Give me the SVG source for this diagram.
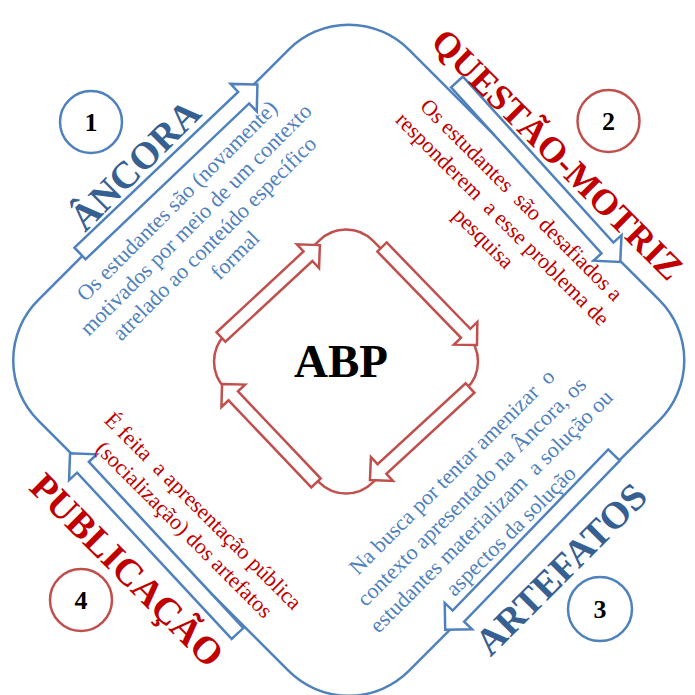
<svg xmlns="http://www.w3.org/2000/svg" width="695" height="695" viewBox="0 0 695 695">
<style>
text { font-family: "Liberation Serif", "Times New Roman", serif; }
.title { font-size: 38px; font-weight: bold; text-anchor: middle; }
.body { font-size: 22px; text-anchor: middle; }
.num { font-size: 26px; font-weight: bold; text-anchor: middle; fill: #000; }
.tb { fill: #376092; }
.bb { fill: #4F81BD; }
.tr { fill: #C00000; }
.loop-o { fill: none; stroke: #4F81BD; stroke-width: 2.5; }
.loop-i { fill: none; stroke: #C0504D; stroke-width: 2.5; }
.arr-o { fill: #fff; stroke: #4F81BD; stroke-width: 2.5; stroke-linejoin: miter; }
.arr-i { fill: #fff; stroke: #C0504D; stroke-width: 2.5; stroke-linejoin: miter; }
.cb { fill: #fff; stroke: #4F81BD; stroke-width: 2.5; }
.cr { fill: #fff; stroke: #C0504D; stroke-width: 2.5; }
</style>
<rect width="695" height="695" fill="#fff"/>
<g id="connectors">
  <rect class="loop-o" x="-262.15" y="-262.15" width="524.3" height="524.3" rx="85" transform="translate(348.75,360.25) rotate(45)"/>
  <polygon class="arr-o" points="0,-8 226,-8 226,-19 245,0 226,19 226,8 0,8" transform="translate(80,253.5) rotate(-43.6)"/>
  <polygon class="arr-o" points="0,-8 224,-8 224,-19 243,0 224,19 224,8 0,8" transform="translate(457,82) rotate(47.8)"/>
  <polygon class="arr-o" points="0,-8 224,-8 224,-19 243,0 224,19 224,8 0,8" transform="translate(614,455) rotate(134)"/>
  <polygon class="arr-o" points="0,-8 227,-8 227,-19 246,0 227,19 227,8 0,8" transform="translate(237.5,633.5) rotate(-132.9)"/>
  <rect class="loop-i" x="-104.45" y="-104.45" width="208.9" height="208.9" rx="38" transform="translate(346,361.5) rotate(45)"/>
  <polygon class="arr-i" points="0,-6.5 118.7,-6.5 118.7,-16.3 135,0 118.7,16.3 118.7,6.5 0,6.5" transform="translate(221,337) rotate(-42.9)"/>
  <polygon class="arr-i" points="0,-6.5 120.2,-6.5 120.2,-16.3 136.5,0 120.2,16.3 120.2,6.5 0,6.5" transform="translate(382,247) rotate(45.9)"/>
  <polygon class="arr-i" points="0,-6.5 119.6,-6.5 119.6,-16.3 135.9,0 119.6,16.3 119.6,6.5 0,6.5" transform="translate(470,388) rotate(137.4)"/>
  <polygon class="arr-i" points="0,-6.5 120.2,-6.5 120.2,-16.3 136.5,0 120.2,16.3 120.2,6.5 0,6.5" transform="translate(316,483) rotate(-133.5)"/>
</g>
<g id="abp">
  <text x="341" y="377" style="font-size:47px;font-weight:bold;text-anchor:middle;fill:#000">ABP</text>
</g>
<g id="ancora">
  <circle class="cb" cx="91" cy="122" r="31"/>
  <text class="num" x="91" y="131">1</text>
  <text class="title tb" transform="translate(144,174) rotate(-45)">ÂNCORA</text>
  <text class="body bb" transform="translate(184,204) rotate(-45)">
    <tspan x="0" y="0">Os estudantes são (novamente)</tspan>
    <tspan x="0" y="26.5">motivados por meio de um contexto</tspan>
    <tspan x="0" y="53">atrelado ao conteúdo específico</tspan>
    <tspan x="0" y="79.5">formal</tspan>
  </text>
</g>
<g id="questao-motriz">
  <circle class="cr" cx="608.5" cy="121" r="31"/>
  <text class="num" x="608.5" y="130">2</text>
  <text class="title tr" style="font-size:36px" transform="translate(549,163) rotate(45)">QUESTÃO-MOTRIZ</text>
  <text class="body tr" xml:space="preserve" transform="translate(516.5,205) rotate(45)"><tspan x="0" y="0">Os estudantes  são desafiados a</tspan><tspan x="0" y="27">responderem  a esse problema de</tspan><tspan x="0" y="54">pesquisa</tspan></text>
</g>
<g id="artefatos">
  <circle class="cb" cx="600" cy="609" r="32"/>
  <text class="num" x="600" y="618">3</text>
  <text class="title tb" transform="translate(570,578) rotate(-45)">ARTEFATOS</text>
  <text class="body bb" xml:space="preserve" transform="translate(457,477) rotate(-45)"><tspan x="0" y="0">Na busca por tentar amenizar  o</tspan><tspan x="0" y="27.8">contexto apresentado na Âncora, os</tspan><tspan x="0" y="55.6">estudantes materializam  a solução ou</tspan><tspan x="0" y="83.4">aspectos da solução</tspan></text>
</g>
<g id="publicacao">
  <circle class="cr" cx="81" cy="600" r="31"/>
  <text class="num" x="81" y="609">4</text>
  <text class="title tr" transform="translate(118,579) rotate(45)">PUBLICAÇÃO</text>
  <text class="body tr" xml:space="preserve" transform="translate(198,516) rotate(45)"><tspan x="0" y="0">É feita  a apresentação pública</tspan><tspan x="0" y="26.5">(socialização) dos artefatos</tspan></text>
</g>
</svg>
